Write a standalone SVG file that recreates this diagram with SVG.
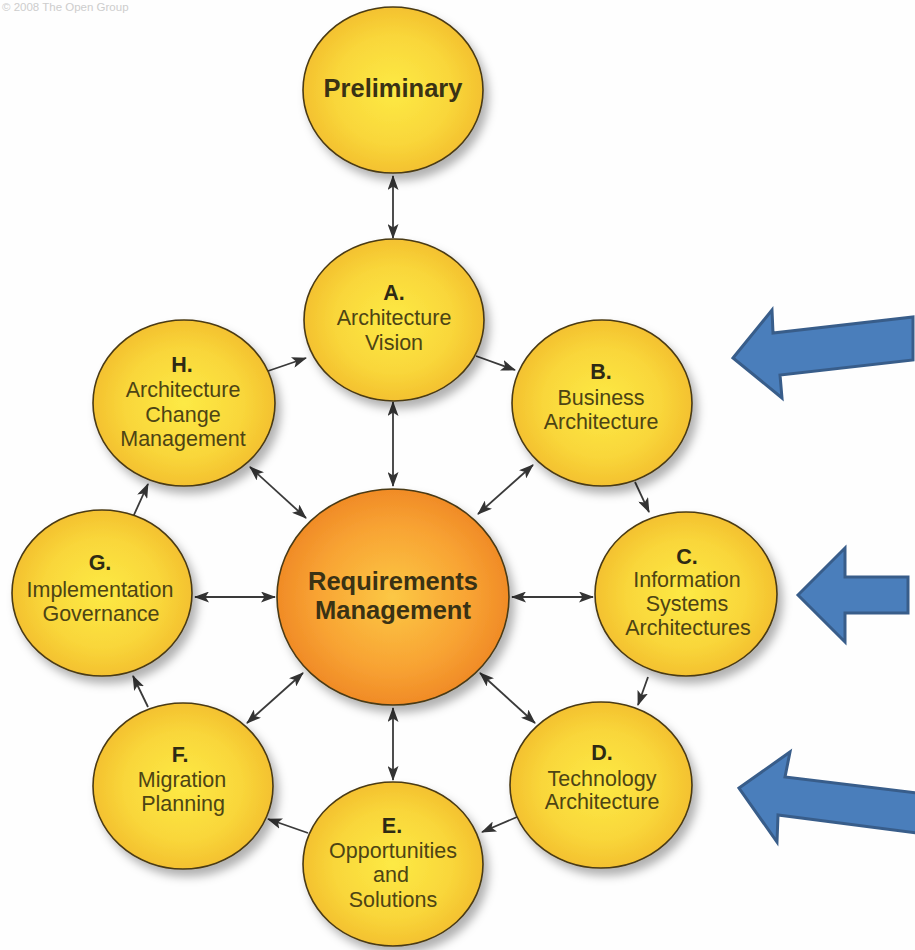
<svg xmlns="http://www.w3.org/2000/svg" width="915" height="950" viewBox="0 0 915 950">
<style>
.node{stroke:#4a3a14;stroke-width:1.6;filter:url(#sh)}
.y{fill:url(#gy)}
.o{fill:url(#go)}
.t{font-family:"Liberation Sans",Arial,sans-serif;font-size:21.5px;fill:#4d4414;text-anchor:middle}
.b{font-weight:bold;fill:#2e2a14}
.big{font-family:"Liberation Sans",Arial,sans-serif;font-size:25.5px;font-weight:bold;fill:#3a3214;text-anchor:middle}
.c{stroke:#3a3a3a;stroke-width:1.8;fill:none}
.one{marker-end:url(#ah)}
.two{marker-start:url(#ah);marker-end:url(#ah)}
.blue{fill:#4a7ebb;stroke:#385d8a;stroke-width:3;stroke-linejoin:miter}
</style>
<defs>
<radialGradient id="gy" cx="0.5" cy="0.5" r="0.55">
<stop offset="0" stop-color="#fdea45"/>
<stop offset="0.6" stop-color="#f9d63a"/>
<stop offset="1" stop-color="#f2bb2c"/>
</radialGradient>
<radialGradient id="go" cx="0.5" cy="0.5" r="0.55">
<stop offset="0" stop-color="#fcc845"/>
<stop offset="0.6" stop-color="#f8a333"/>
<stop offset="1" stop-color="#ee8423"/>
</radialGradient>
<filter id="sh" x="-20%" y="-20%" width="150%" height="150%">
<feDropShadow dx="5" dy="7" stdDeviation="5" flood-color="#000" flood-opacity="0.3"/>
</filter>
<marker id="ah" viewBox="0 0 15 11" refX="14" refY="5.5" markerWidth="15" markerHeight="11" markerUnits="userSpaceOnUse" orient="auto-start-reverse">
<path d="M0,0 L15,5.5 L0,11 L3.5,5.5 z" fill="#333"/>
</marker>
</defs>
<rect width="915" height="950" fill="#fefefe"/>
<text x="2" y="11" font-family="Liberation Sans,Arial,sans-serif" font-size="11.5" fill="#cdcdcd">© 2008 The Open Group</text>

<g id="connectors">
<line class="c two" x1="393" y1="176" x2="393" y2="238"/>
<line class="c two" x1="393" y1="402" x2="393" y2="486"/>
<line class="c one" x1="268" y1="371" x2="306" y2="358"/>
<line class="c one" x1="476" y1="356" x2="515" y2="370"/>
<line class="c two" x1="533" y1="465" x2="478" y2="514"/>
<line class="c one" x1="635" y1="482" x2="649" y2="512"/>
<line class="c two" x1="512" y1="597" x2="593" y2="597"/>
<line class="c one" x1="648" y1="677" x2="638" y2="705"/>
<line class="c two" x1="480" y1="673" x2="535" y2="723"/>
<line class="c one" x1="517" y1="817" x2="482" y2="832"/>
<line class="c two" x1="393" y1="708" x2="393" y2="780"/>
<line class="c one" x1="308" y1="833" x2="268" y2="819"/>
<line class="c two" x1="303" y1="673" x2="247" y2="723"/>
<line class="c one" x1="148" y1="707" x2="133" y2="676"/>
<line class="c two" x1="195" y1="597" x2="275" y2="597"/>
<line class="c one" x1="133" y1="517" x2="148" y2="484"/>
<line class="c two" x1="250" y1="467" x2="306" y2="518"/>
</g>

<g id="preliminary">
<ellipse class="node y" cx="393" cy="90" rx="90" ry="83"/>
<text class="big" x="393" y="97">Preliminary</text>
</g>
<g id="phaseA">
<ellipse class="node y" cx="394" cy="320" rx="90" ry="81"/>
<text class="t b" x="394" y="300">A.</text>
<text class="t" x="394" y="325">Architecture</text>
<text class="t" x="394" y="350">Vision</text>
</g>
<g id="phaseB">
<ellipse class="node y" cx="602" cy="403" rx="90" ry="83"/>
<text class="t b" x="601" y="379">B.</text>
<text class="t" x="601" y="405">Business</text>
<text class="t" x="601" y="429">Architecture</text>
</g>
<g id="phaseC">
<ellipse class="node y" cx="686" cy="594" rx="91" ry="82"/>
<text class="t b" x="687" y="564">C.</text>
<text class="t" x="687" y="587">Information</text>
<text class="t" x="687" y="611">Systems</text>
<text class="t" x="688" y="635">Architectures</text>
</g>
<g id="phaseD">
<ellipse class="node y" cx="601" cy="785" rx="91" ry="83"/>
<text class="t b" x="602" y="760">D.</text>
<text class="t" x="602" y="786">Technology</text>
<text class="t" x="602" y="809">Architecture</text>
</g>
<g id="phaseE">
<ellipse class="node y" cx="393" cy="864" rx="90" ry="82"/>
<text class="t b" x="392" y="833">E.</text>
<text class="t" x="393" y="858">Opportunities</text>
<text class="t" x="391" y="882">and</text>
<text class="t" x="393" y="907">Solutions</text>
</g>
<g id="phaseF">
<ellipse class="node y" cx="183" cy="786" rx="90" ry="83"/>
<text class="t b" x="180" y="762">F.</text>
<text class="t" x="182" y="787">Migration</text>
<text class="t" x="183" y="811">Planning</text>
</g>
<g id="phaseG">
<ellipse class="node y" cx="102" cy="593" rx="90" ry="83"/>
<text class="t b" x="100" y="570">G.</text>
<text class="t" x="100" y="597">Implementation</text>
<text class="t" x="101" y="621">Governance</text>
</g>
<g id="phaseH">
<ellipse class="node y" cx="184" cy="403" rx="91" ry="83"/>
<text class="t b" x="182" y="372">H.</text>
<text class="t" x="183" y="397">Architecture</text>
<text class="t" x="183" y="422">Change</text>
<text class="t" x="183" y="446">Management</text>
</g>
<g id="requirements">
<ellipse class="node o" cx="393" cy="597" rx="116" ry="108"/>
<text class="big" x="393" y="590">Requirements</text>
<text class="big" x="393" y="619">Management</text>
</g>

<g id="blueArrows">
<polygon class="blue" points="733,358 772,310 773,333 913,317 913,360 780,375 782,398"/>
<polygon class="blue" points="798,595 845,548 845,577 908,577 908,613 845,613 845,642"/>
<polygon class="blue" points="739,788 790,752 785,777 917,793 917,833 778,815 777,842"/>
</g>
</svg>
